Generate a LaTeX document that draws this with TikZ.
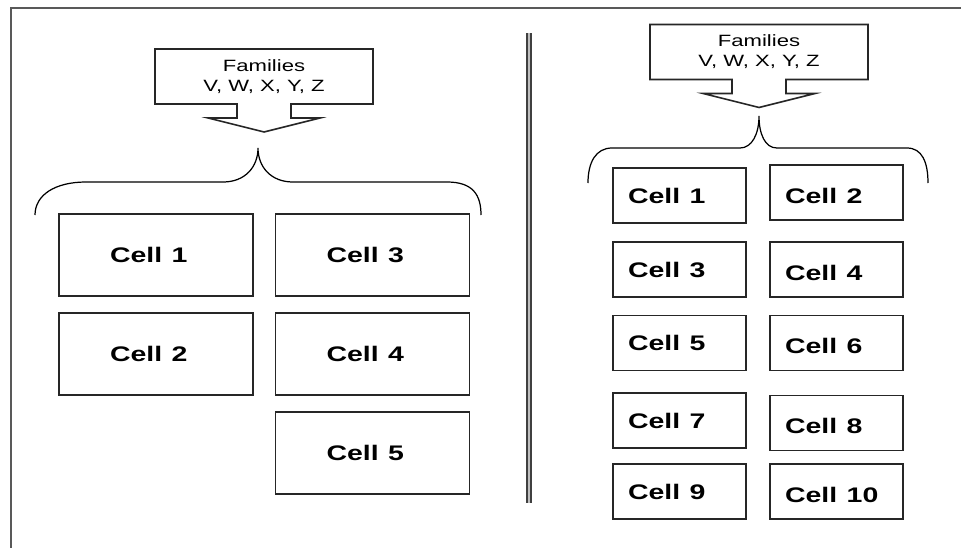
\documentclass[tikz,border=0pt]{standalone}
\usepackage{fontspec}
\setmainfont{Liberation Sans}
\usepackage{graphicx}
\usetikzlibrary{calc}

\newcommand{\wide}[1]{\scalebox{1.35}[1]{#1}}

\begin{document}
\begin{tikzpicture}[x=0.02cm, y=-0.02cm,
    outline/.style={draw=black!85, line width=0.9pt, line join=miter},
    cellbig/.style={rectangle, draw=black!85, line width=0.9pt, minimum height=1.64cm,
        text width=1.84cm, inner xsep=1.02cm, align=left, outer sep=0pt,
        font=\fontsize{12}{14}\selectfont\bfseries},
    cellsmall/.style={cellbig, minimum height=1.1cm, text width=2.06cm, inner xsep=0.3cm},
    lower/.style={text height=12.6pt},
    famnode/.style={rectangle, minimum width=4.36cm, minimum height=1.1cm, align=center,
        outer sep=0pt, font=\fontsize{9.3}{11.3}\selectfont},
    bracket/.style={draw=black, line width=0.7pt}]
    \useasboundingbox (0,0) rectangle (961,548);
    % frame
    \draw[black!65, line width=1.2pt] (11,548) -- (11,8) -- (961,8);
    % divider
    \draw[black!75, line width=0.9pt, double=gray!50, double distance=1.6pt] (529,33) -- (529,503);
    % families
    \node[famnode] (famL) at (264,76.5) {\wide{Families}\\\wide{V, W, X, Y, Z}};
    \node[famnode] (famR) at (759,52) {\wide{Families}\\\wide{V, W, X, Y, Z}};
    \foreach \f in {famL,famR} {
        \draw[outline] ($(\f.south)+(-27,0)$) -- (\f.south west) -- (\f.north west)
            -- (\f.north east) -- (\f.south east) -- ($(\f.south)+(27,0)$)
            -- ++(0,14) -- ++(29,0) -- ($(\f.south)+(0,28)$) -- ($(\f.south)+(-56,14)$)
            -- ++(29,0) -- cycle;
    }
    % braces
    \draw[bracket] (35,215) .. controls (35,195) and (55,182) .. (86,182) -- (223,182)
        .. controls (245,182) and (258,167) .. (258,148)
        .. controls (258,167) and (271,182) .. (293,182) -- (447,182)
        .. controls (473,182) and (481,195) .. (481,215);
    \draw[bracket] (588,183) .. controls (588,162) and (596,148) .. (612,148) -- (740,148)
        .. controls (752,148) and (759,134) .. (759,116)
        .. controls (759,134) and (765,148) .. (777,148) -- (907,148)
        .. controls (922,148) and (928,162) .. (928,183);
    % left cells
    \foreach \n/\x/\y in {1/156/255, 3/372.5/255, 2/156/354, 4/372.5/354, 5/372.5/453} {
        \node[cellbig] (l\n) at (\x,\y) {\wide{Cell \n}};
    }
    % right cells
    \foreach \n/\x/\y in {1/679.5/195.5, 3/679.5/269.5, 5/679.5/343, 7/679.5/420.5, 9/679.5/491.5} {
        \node[cellsmall] (r\n) at (\x,\y) {\wide{Cell \n}};
    }
    \foreach \n/\x/\y in {2/836.5/192.5, 4/836.5/269.5, 6/836.5/343, 8/836.5/423, 10/836.5/491.5} {
        \node[cellsmall, lower] (r\n) at (\x,\y) {\wide{Cell \n}};
    }
\end{tikzpicture}
\end{document}
